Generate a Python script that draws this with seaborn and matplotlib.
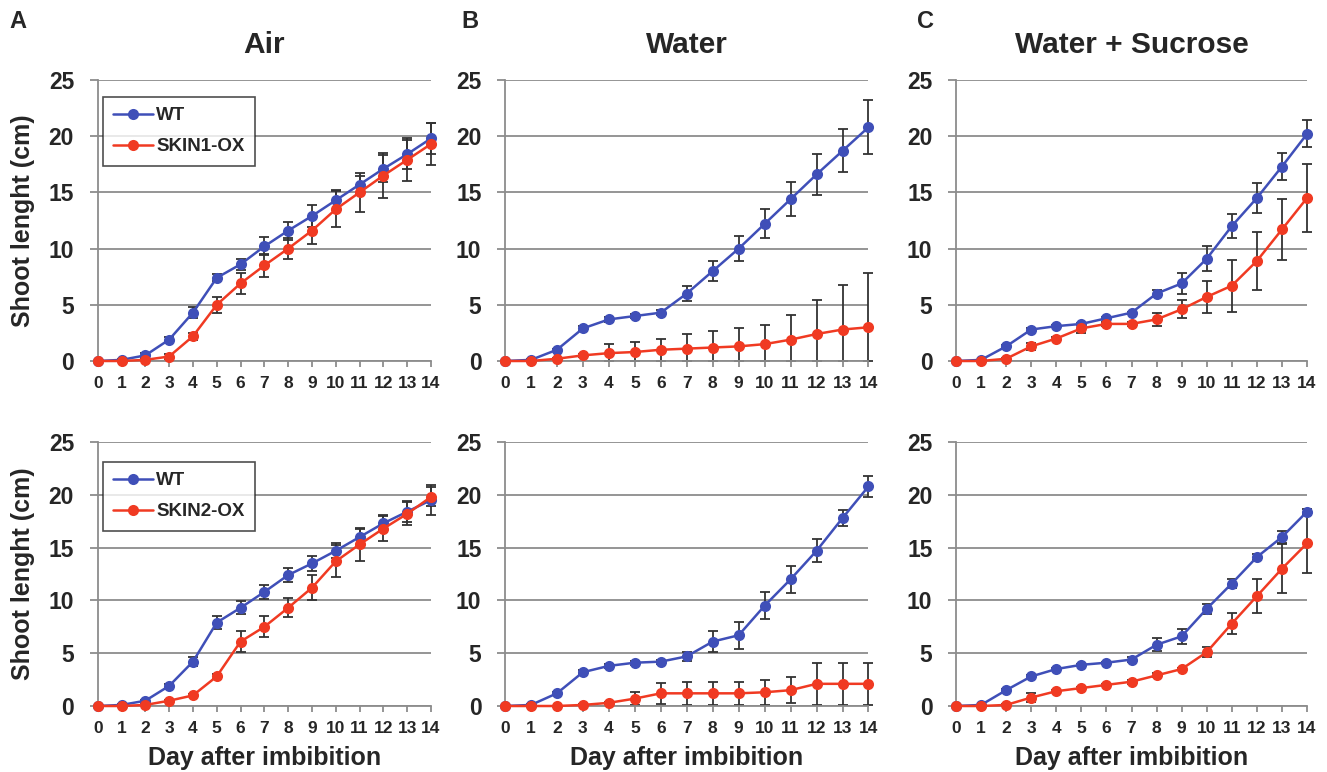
import matplotlib
matplotlib.use("Agg")
import matplotlib.pyplot as plt
import seaborn as sns
import numpy as np
import pandas as pd

days = list(range(15))

# top row: SKIN1-OX
air1_wt = [0, 0.1, 0.5, 1.9, 4.3, 7.4, 8.6, 10.2, 11.6, 12.9, 14.3, 15.7, 17.1, 18.4, 19.8]
air1_wt_err = [0, 0.1, 0.2, 0.2, 0.5, 0.3, 0.5, 0.8, 0.8, 1.0, 0.9, 0.8, 1.2, 1.3, 1.4]
air1_ox = [0, 0, 0.1, 0.4, 2.2, 5.0, 6.9, 8.5, 10.0, 11.6, 13.5, 15.0, 16.5, 17.9, 19.3]
air1_ox_err = [0, 0, 0.1, 0.2, 0.3, 0.7, 0.9, 1.0, 0.9, 1.2, 1.6, 1.7, 2.0, 1.9, 1.9]

wat1_wt = [0, 0.1, 1.0, 2.9, 3.7, 4.0, 4.3, 6.0, 8.0, 10.0, 12.2, 14.4, 16.6, 18.7, 20.8]
wat1_wt_err = [0, 0.05, 0.1, 0.2, 0.2, 0.2, 0.2, 0.7, 0.9, 1.1, 1.3, 1.5, 1.8, 1.9, 2.4]
wat1_ox = [0, 0, 0.2, 0.5, 0.7, 0.8, 1.0, 1.1, 1.2, 1.3, 1.5, 1.9, 2.4, 2.8, 3.0]
wat1_ox_err = [0, 0, 0.1, 0.1, 0.8, 0.9, 1.0, 1.3, 1.5, 1.6, 1.7, 2.2, 3.0, 4.0, 4.8]

suc1_wt = [0, 0.1, 1.3, 2.8, 3.1, 3.3, 3.8, 4.3, 6.0, 6.9, 9.1, 12.0, 14.5, 17.3, 20.2]
suc1_wt_err = [0, 0, 0.1, 0.1, 0.1, 0.1, 0.1, 0.1, 0.3, 0.9, 1.1, 1.1, 1.3, 1.2, 1.2]
suc1_ox = [0, 0, 0.2, 1.3, 2.0, 2.9, 3.3, 3.3, 3.7, 4.6, 5.7, 6.7, 8.9, 11.7, 14.5]
suc1_ox_err = [0, 0, 0.1, 0.3, 0.1, 0.4, 0.2, 0.2, 0.6, 0.8, 1.4, 2.3, 2.6, 2.7, 3.0]

# bottom row: SKIN2-OX
air2_wt = [0, 0.1, 0.5, 1.9, 4.2, 7.9, 9.3, 10.8, 12.4, 13.5, 14.7, 16.0, 17.3, 18.4, 19.5]
air2_wt_err = [0, 0.05, 0.1, 0.2, 0.4, 0.6, 0.6, 0.7, 0.7, 0.7, 0.7, 0.8, 0.8, 1.0, 1.4]
air2_ox = [0, 0, 0.1, 0.5, 1.0, 2.8, 6.1, 7.5, 9.3, 11.2, 13.7, 15.3, 16.8, 18.2, 19.8]
air2_ox_err = [0, 0, 0.05, 0.1, 0.1, 0.2, 1.0, 1.0, 0.9, 1.2, 1.5, 1.6, 1.2, 1.1, 0.9]

wat2_wt = [0, 0.1, 1.2, 3.2, 3.8, 4.1, 4.2, 4.7, 6.1, 6.7, 9.5, 12.0, 14.7, 17.8, 20.8]
wat2_wt_err = [0, 0.05, 0.1, 0.2, 0.2, 0.2, 0.2, 0.4, 1.0, 1.3, 1.3, 1.3, 1.1, 0.8, 1.0]
wat2_ox = [0, 0, 0, 0.1, 0.3, 0.7, 1.2, 1.2, 1.2, 1.2, 1.3, 1.5, 2.1, 2.1, 2.1]
wat2_ox_err = [0, 0, 0, 0.05, 0.1, 0.6, 1.0, 1.1, 1.1, 1.1, 1.2, 1.2, 2.0, 2.0, 2.0]

suc2_wt = [0, 0.1, 1.5, 2.8, 3.5, 3.9, 4.1, 4.4, 5.8, 6.6, 9.2, 11.6, 14.1, 16.0, 18.4]
suc2_wt_err = [0, 0, 0.1, 0.1, 0.1, 0.1, 0.1, 0.2, 0.6, 0.7, 0.5, 0.4, 0.3, 0.6, 0.3]
suc2_ox = [0, 0, 0.1, 0.8, 1.4, 1.7, 2.0, 2.3, 2.9, 3.5, 5.1, 7.8, 10.4, 13.0, 15.4]
suc2_ox_err = [0, 0, 0.05, 0.4, 0.1, 0.1, 0.1, 0.2, 0.2, 0.1, 0.5, 1.0, 1.6, 2.3, 2.8]

titles = ["Air", "Water", "Water + Sucrose"]
letters = ["A", "B", "C"]
ox_names = ["SKIN1-OX", "SKIN2-OX"]

panels = [
    [(air1_wt, air1_wt_err, air1_ox, air1_ox_err),
     (wat1_wt, wat1_wt_err, wat1_ox, wat1_ox_err),
     (suc1_wt, suc1_wt_err, suc1_ox, suc1_ox_err)],
    [(air2_wt, air2_wt_err, air2_ox, air2_ox_err),
     (wat2_wt, wat2_wt_err, wat2_ox, wat2_ox_err),
     (suc2_wt, suc2_wt_err, suc2_ox, suc2_ox_err)],
]

sns.set_theme(style="white")
plt.rcParams['font.family'] = ['Liberation Sans', 'DejaVu Sans']
plt.rcParams['font.weight'] = 'bold'

W, H = 1327, 772
fig = plt.figure(figsize=(W / 100, H / 100), dpi=100)

blue = "#3F4FB8"
red = "#F03A22"
gray = "#8C8C8C"

# pixel boxes (left x, right x) per column and (top y, bottom y) per row
cols_px = [(97.7, 431), (505, 868.5), (956, 1307)]
rows_px = [(80, 361), (442, 706)]

for r in range(2):
    for c in range(3):
        x0, x1 = cols_px[c]
        y0, y1 = rows_px[r]
        ax = fig.add_axes([x0 / W, 1 - y1 / H, (x1 - x0) / W, (y1 - y0) / H])
        wt, wt_err, ox, ox_err = panels[r][c]
        df = pd.DataFrame({
            "day": days * 2,
            "length": wt + ox,
            "line": ["WT"] * 15 + [ox_names[r]] * 15,
        })
        for vals, err in [(wt, wt_err), (ox, ox_err)]:
            # error bars stop at the x axis, as in the original
            lower = np.minimum(err, vals)
            ax.errorbar(days, vals, yerr=[lower, err], fmt="none", ecolor="#333333",
                        elinewidth=1.3, capsize=3.5, capthick=1.3, zorder=2, clip_on=False)
        sns.lineplot(data=df, x="day", y="length", hue="line",
                     palette={"WT": blue, ox_names[r]: red},
                     marker="o", markersize=8, markeredgewidth=0, linewidth=1.8,
                     ax=ax, zorder=3, clip_on=False, legend=(c == 0))
        ax.set_xlim(0, 14)
        ax.set_ylim(0, 25)
        ax.set_xticks(days)
        ax.set_yticks([0, 5, 10, 15, 20, 25])
        ax.yaxis.grid(True, color=gray, linewidth=1.3)
        ax.set_axisbelow(True)
        for s in ["top", "right"]:
            ax.spines[s].set_visible(False)
        for s in ["left", "bottom"]:
            ax.spines[s].set_color(gray)
            ax.spines[s].set_linewidth(1.3)
        ax.tick_params(axis="y", which="major", left=True, length=6, width=1.3,
                       color=gray, pad=11, labelsize=16.5)
        ax.tick_params(axis="x", which="major", bottom=True, length=4, width=1.3,
                       color=gray, pad=7, labelsize=12.5)
        for lab in ax.get_xticklabels() + ax.get_yticklabels():
            lab.set_fontweight("bold")
        ax.set_xlabel("Day after imbibition" if r == 1 else "", fontsize=18,
                      fontweight="bold", labelpad=7)
        ax.set_ylabel("Shoot lenght (cm)" if c == 0 else "", fontsize=18,
                      fontweight="bold", labelpad=10)
        if c == 0:
            leg = ax.legend(loc="upper left", bbox_to_anchor=(0.016, 0.94 if r == 0 else 0.925),
                            frameon=True, fancybox=False, edgecolor="#222222",
                            prop={"weight": "bold", "size": 13.5}, borderpad=0.55,
                            handlelength=2.1, handletextpad=0.2, labelspacing=0.75,
                            borderaxespad=0)
            leg.get_frame().set_linewidth(1.2)
        if r == 0:
            fig.text((x0 + x1) / 2 / W, 1 - 45 / H, titles[c], ha="center", va="center",
                     fontsize=21.5, fontweight="bold")

for c, xp in enumerate([18, 470, 926]):
    fig.text(xp / W, 1 - 22 / H, letters[c], ha="center", va="center",
             fontsize=17, fontweight="bold")

fig.savefig("out.png", dpi=100)
